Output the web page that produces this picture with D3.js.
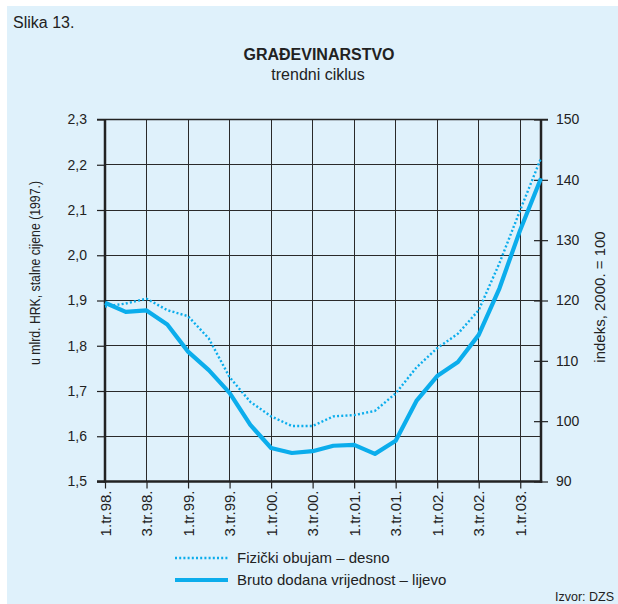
<!DOCTYPE html>
<html>
<meta charset="utf-8">
<style>
body {
  margin: 0;
  font-family: "Liberation Sans", Arial, sans-serif;
}
.grid line {
  stroke: #2a2a2a;
  stroke-width: 1;
  shape-rendering: crispEdges;
}
.axis text {
  font-size: 14px;
  fill: #222;
}
.axis line {
  stroke: #222;
}
</style>
<body>
<script src="https://d3js.org/d3.v7.min.js"></script>
<script>
// quarters 1.tr.98. .. 2.tr.03.
var quarters = ["1.tr.98.","2.tr.98.","3.tr.98.","4.tr.98.",
                "1.tr.99.","2.tr.99.","3.tr.99.","4.tr.99.",
                "1.tr.00.","2.tr.00.","3.tr.00.","4.tr.00.",
                "1.tr.01.","2.tr.01.","3.tr.01.","4.tr.01.",
                "1.tr.02.","2.tr.02.","3.tr.02.","4.tr.02.",
                "1.tr.03.","2.tr.03."];
var xTicks = ["1.tr.98.","3.tr.98.","1.tr.99.","3.tr.99.","1.tr.00.","3.tr.00.",
              "1.tr.01.","3.tr.01.","1.tr.02.","3.tr.02.","1.tr.03."];
// bruto dodana vrijednost (left axis, mlrd. HRK)
var bruto = [1.895,1.875,1.878,1.847,1.787,1.746,1.696,1.625,1.574,1.563,1.567,
             1.579,1.581,1.561,1.590,1.678,1.733,1.764,1.824,1.927,2.056,2.170];
// fizicki obujam (right axis, indeks 2000.=100)
var fizicki = [119.0,119.5,120.3,118.4,117.4,113.7,107.3,103.2,100.8,99.2,99.2,
               100.8,101.0,101.7,104.6,108.9,112.1,114.5,118.4,126.2,135.0,143.6];
var leftTicks = [1.5,1.6,1.7,1.8,1.9,2.0,2.1,2.2,2.3];
var rightTicks = [90,100,110,120,130,140,150];

var W = 618, H = 604;
var plot = {left: 105, right: 541, top: 119.5, bottom: 481.5};
var blue = "#0badec";

var svg = d3.select("body").append("svg")
    .attr("width", W)
    .attr("height", H);

// panel background
svg.append("rect")
    .attr("x", 7).attr("y", 6)
    .attr("width", W - 7).attr("height", H - 6)
    .attr("fill", "#dff1fb");

var xScale = d3.scalePoint().domain(quarters).range([plot.left, plot.right]);
var yLeft = d3.scaleLinear().domain([1.5, 2.3]).range([plot.bottom, plot.top]);
var yRight = d3.scaleLinear().domain([90, 150]).range([plot.bottom, plot.top]);

var comma = function(d) { return d3.format(".1f")(d).replace(".", ","); };

// header texts
svg.append("text").attr("x", 13).attr("y", 28)
    .style("font-size", "16px").style("fill", "#222").text("Slika 13.");
svg.append("text").attr("x", 319).attr("y", 60)
    .attr("text-anchor", "middle")
    .style("font-size", "16px").style("font-weight", "bold").style("fill", "#222")
    .text("GRAĐEVINARSTVO");
svg.append("text").attr("x", 318).attr("y", 80)
    .attr("text-anchor", "middle")
    .style("font-size", "16px").style("fill", "#222")
    .text("trendni ciklus");

// grid
var grid = svg.append("g").attr("class", "grid");
grid.selectAll(".h").data(leftTicks).enter().append("line")
    .attr("x1", plot.left).attr("x2", plot.right)
    .attr("y1", yLeft).attr("y2", yLeft);
grid.selectAll(".v").data(xTicks).enter().append("line")
    .attr("x1", xScale).attr("x2", xScale)
    .attr("y1", plot.top).attr("y2", plot.bottom);

// left axis
var gl = svg.append("g")
    .attr("class", "axis")
    .attr("transform", "translate(" + plot.left + ",0)")
    .call(d3.axisLeft(yLeft).tickValues(leftTicks).tickFormat(comma).tickSize(8).tickPadding(10));
gl.select(".domain").remove();
gl.selectAll("line").attr("stroke-width", 1.2);

// right axis with crossing ticks
var gr = svg.append("g")
    .attr("class", "axis")
    .attr("transform", "translate(" + plot.right + ",0)")
    .call(d3.axisRight(yRight).tickValues(rightTicks).tickSize(7).tickPadding(8));
gr.select(".domain").remove();
gr.selectAll(".tick line").attr("x1", -7).attr("stroke-width", 1.2);

// bottom axis
var gb = svg.append("g")
    .attr("class", "axis")
    .attr("transform", "translate(0," + plot.bottom + ")")
    .call(d3.axisBottom(xScale).tickValues(xTicks).tickSize(7));
gb.select(".domain").remove();
gb.selectAll("line").attr("stroke-width", 1.2);
gb.selectAll("text")
    .attr("transform", "rotate(-90)")
    .attr("x", -9).attr("y", 0).attr("dy", "0.35em")
    .style("text-anchor", "end")
    .style("font-size", "15px");

// frame
svg.append("line").attr("x1", 97).attr("x2", plot.right + 7)
    .attr("y1", plot.top).attr("y2", plot.top)
    .attr("stroke", "#222").attr("stroke-width", 1.5);
svg.append("line").attr("x1", 97).attr("x2", plot.right + 1.2)
    .attr("y1", plot.bottom).attr("y2", plot.bottom)
    .attr("stroke", "#222").attr("stroke-width", 2.5);
svg.append("line").attr("x1", plot.left).attr("x2", plot.left)
    .attr("y1", plot.top).attr("y2", plot.bottom + 1.2)
    .attr("stroke", "#222").attr("stroke-width", 2.5);
svg.append("line").attr("x1", plot.right).attr("x2", plot.right)
    .attr("y1", plot.top).attr("y2", plot.bottom + 1.2)
    .attr("stroke", "#222").attr("stroke-width", 2.5);

// axis titles
svg.append("text")
    .attr("transform", "translate(40,273) rotate(-90)")
    .attr("text-anchor", "middle")
    .style("font-size", "14px").style("fill", "#222")
    .attr("textLength", 184).attr("lengthAdjust", "spacingAndGlyphs")
    .text("u mlrd. HRK, stalne cijene (1997.)");
svg.append("text")
    .attr("transform", "translate(605,297) rotate(-90)")
    .attr("text-anchor", "middle")
    .style("font-size", "15px").style("fill", "#222")
    .text("indeks, 2000. = 100");

// lines
var lineR = d3.line()
    .x(function(d, i) { return xScale(quarters[i]); })
    .y(function(d) { return yRight(d); });
var lineL = d3.line()
    .x(function(d, i) { return xScale(quarters[i]); })
    .y(function(d) { return yLeft(d); });

svg.append("path")
    .datum(fizicki)
    .attr("d", lineR)
    .attr("fill", "none")
    .attr("stroke", blue)
    .attr("stroke-width", 2.4)
    .attr("stroke-dasharray", "2 2.2");

svg.append("path")
    .datum(bruto)
    .attr("d", lineL)
    .attr("fill", "none")
    .attr("stroke", blue)
    .attr("stroke-width", 4.2)
    .attr("stroke-linejoin", "round");

// legend
var legend = [{name: "Fizički obujam – desno", dash: "2 2.2", w: 2.4, y: 558},
              {name: "Bruto dodana vrijednost – lijevo", dash: null, w: 4.2, y: 580}];
var lg = svg.selectAll(".legend").data(legend).enter().append("g")
    .attr("class", "legend")
    .attr("transform", function(d) { return "translate(0," + d.y + ")"; });
lg.append("line")
    .attr("x1", 175).attr("x2", 228)
    .attr("stroke", blue)
    .attr("stroke-width", function(d) { return d.w; })
    .attr("stroke-dasharray", function(d) { return d.dash; });
lg.append("text")
    .attr("x", 237).attr("dy", "0.35em")
    .style("font-size", "15px").style("fill", "#222")
    .text(function(d) { return d.name; });

svg.append("text").attr("x", 614).attr("y", 601)
    .attr("text-anchor", "end")
    .style("font-size", "12.5px").style("fill", "#222")
    .text("Izvor: DZS");
</script>
</body>
</html>
